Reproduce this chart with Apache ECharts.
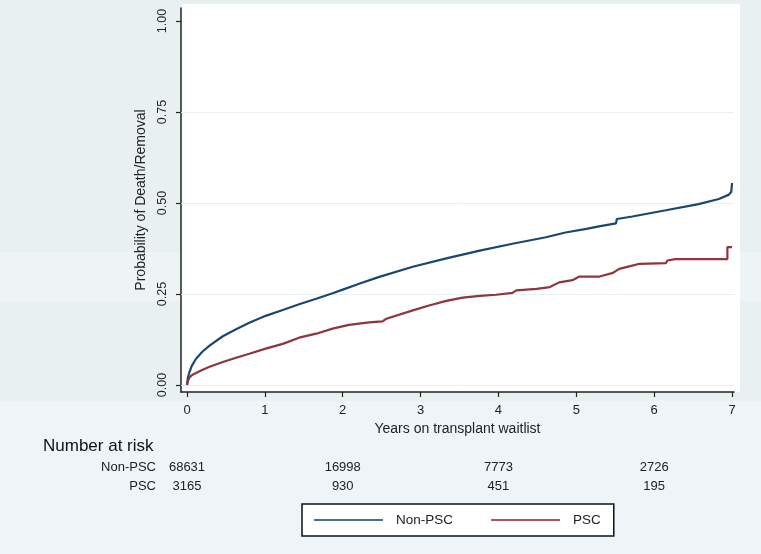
<!DOCTYPE html>
<html>
<head>
<meta charset="utf-8">
<script src="https://cdn.jsdelivr.net/npm/echarts@6/dist/echarts.min.js"></script>
<style>
  html, body { margin: 0; padding: 0; }
  #chart { width: 761px; height: 554px; }
</style>
</head>
<body>
<div id="chart"></div>
<script>
// cumulative probability of death/removal
const nonPscT = [0, 0.01, 0.03, 0.06, 0.116, 0.2, 0.29, 0.46, 0.63, 0.80, 1.01, 1.23, 1.44, 1.66, 1.87, 2.0, 2.21, 2.47, 2.90, 3.33, 3.76, 4.18, 4.61, 4.86, 5.13, 5.29, 5.51, 5.52, 5.72, 6.15, 6.57, 6.83, 6.96, 6.99, 7.0, 7.0];
const nonPscP = [0, 0.018, 0.035, 0.052, 0.072, 0.092, 0.108, 0.134, 0.153, 0.171, 0.19, 0.206, 0.222, 0.237, 0.252, 0.262, 0.278, 0.297, 0.325, 0.348, 0.369, 0.388, 0.406, 0.419, 0.429, 0.436, 0.444, 0.456, 0.463, 0.480, 0.497, 0.511, 0.523, 0.531, 0.535, 0.555];

const pscT = [0, 0.01, 0.03, 0.06, 0.116, 0.2, 0.29, 0.46, 0.63, 0.80, 1.01, 1.23, 1.44, 1.66, 1.87, 2.08, 2.34, 2.51, 2.56, 2.90, 3.12, 3.33, 3.54, 3.76, 3.97, 4.18, 4.23, 4.49, 4.66, 4.78, 4.95, 5.04, 5.30, 5.47, 5.55, 5.68, 5.81, 6.15, 6.17, 6.27, 6.94, 6.94, 7.0];
const pscP = [0, 0.01, 0.02, 0.027, 0.033, 0.042, 0.05, 0.063, 0.075, 0.086, 0.1, 0.113, 0.13, 0.141, 0.155, 0.165, 0.172, 0.175, 0.182, 0.205, 0.219, 0.231, 0.24, 0.245, 0.248, 0.253, 0.26, 0.264, 0.269, 0.282, 0.288, 0.298, 0.298, 0.308, 0.319, 0.326, 0.333, 0.335, 0.342, 0.346, 0.346, 0.379, 0.379];

const xTicks = [0, 1, 2, 3, 4, 5, 6, 7];
const yTicks = [0, 0.25, 0.5, 0.75, 1];

// number at risk table
const riskTimes = [0, 2, 4, 6];
const nonPscRisk = [68631, 16998, 7773, 2726];
const pscRisk = [3165, 930, 451, 195];

const FONT = '"Liberation Sans", Arial, sans-serif';
const NAVY = '#1a476f';
const MAROON = '#90353b';

function pairs(xs, ys) {
  return xs.map((x, i) => [x, ys[i]]);
}

const chart = echarts.init(document.getElementById('chart'), null, { renderer: 'canvas' });

let option = {
  animation: false,
  backgroundColor: '#e9f0f1',
  textStyle: { fontFamily: FONT },
  grid: { left: 181, right: 27, top: 8, bottom: 162, containLabel: false },
  legend: {
    left: 302,
    top: 504,
    padding: [9, 13, 9, 12],
    itemGap: 38,
    itemWidth: 69,
    itemHeight: 2,
    icon: 'rect',
    borderColor: '#111',
    borderWidth: 1.5,
    borderRadius: 0,
    backgroundColor: '#fff',
    textStyle: { fontSize: 13.5, color: '#222', fontFamily: FONT, padding: [0, 0, 0, 8] },
    data: [
      { name: 'Non-PSC', itemStyle: { color: '#4a6f95' } },
      { name: 'PSC', itemStyle: { color: '#b5545a' } }
    ]
  },
  xAxis: {
    type: 'value',
    min: -0.077,
    max: 7.025,
    name: 'Years on transplant waitlist',
    nameLocation: 'middle',
    nameGap: 30,
    nameTextStyle: { fontSize: 14, color: '#222', fontFamily: FONT },
    axisLine: { show: true, onZero: false, lineStyle: { color: '#222', width: 1.5 } },
    axisTick: { show: true, length: 5, customValues: xTicks, lineStyle: { color: '#222', width: 1.2 } },
    axisLabel: { customValues: xTicks, fontSize: 13, color: '#222', margin: 12, fontFamily: FONT },
    splitLine: { show: false }
  },
  yAxis: {
    type: 'value',
    min: -0.0192,
    max: 1.0357,
    name: 'Probability of Death/Removal',
    nameLocation: 'middle',
    nameGap: 28,
    nameTextStyle: { fontSize: 14, color: '#222', fontFamily: FONT },
    axisLine: { show: true, onZero: false, lineStyle: { color: '#222', width: 1.5 } },
    axisTick: { show: true, length: 5, customValues: yTicks, lineStyle: { color: '#222', width: 1.2 } },
    axisLabel: {
      customValues: yTicks,
      rotate: 90,
      fontSize: 12.5,
      color: '#222',
      margin: 12,
      fontFamily: FONT,
      formatter: v => v.toFixed(2)
    },
    splitLine: { show: false }
  },
  graphic: [
    { type: 'rect', z: -10, silent: true, shape: { x: 0, y: 252, width: 761, height: 50 }, style: { fill: '#eef4f6' } },
    { type: 'rect', z: -10, silent: true, shape: { x: 0, y: 401, width: 761, height: 153 }, style: { fill: '#eef4f7' } },
    { type: 'rect', z: -5, silent: true, shape: { x: 181, y: 4, width: 559, height: 388 }, style: { fill: '#ffffff' } }
  ],
  series: [
    {
      name: 'grid',
      type: 'line',
      data: [],
      z: 1,
      markLine: {
        silent: true,
        z: 1,
        symbol: 'none',
        label: { show: false },
        lineStyle: { color: '#e8eff1', width: 1, type: 'solid' },
        data: [{ yAxis: 0 }, { yAxis: 0.25 }, { yAxis: 0.5 }, { yAxis: 0.75 }]
      }
    },
    {
      name: 'Non-PSC',
      type: 'line',
      z: 3,
      showSymbol: false,
      data: pairs(nonPscT, nonPscP),
      lineStyle: { color: NAVY, width: 2.2 },
      itemStyle: { color: NAVY }
    },
    {
      name: 'PSC',
      type: 'line',
      z: 3,
      showSymbol: false,
      data: pairs(pscT, pscP),
      lineStyle: { color: MAROON, width: 2.2 },
      itemStyle: { color: MAROON }
    }
  ]
};

chart.setOption(option);

// number-at-risk table placed under the matching x positions
const tableText = [];
const rowY = [467, 486];
tableText.push({
  type: 'text', left: 43, top: 438,
  style: { text: 'Number at risk', fontSize: 17, fill: '#111', fontFamily: FONT }
});
['Non-PSC', 'PSC'].forEach((lab, r) => {
  tableText.push({
    type: 'text', x: 156, y: rowY[r],
    style: { text: lab, fontSize: 13, fill: '#222', fontFamily: FONT, align: 'right', verticalAlign: 'middle' }
  });
});
[nonPscRisk, pscRisk].forEach((row, r) => {
  row.forEach((n, i) => {
    const px = chart.convertToPixel({ xAxisIndex: 0 }, riskTimes[i]);
    tableText.push({
      type: 'text', x: px, y: rowY[r],
      style: { text: String(n), fontSize: 13, fill: '#222', fontFamily: FONT, align: 'center', verticalAlign: 'middle' }
    });
  });
});

chart.setOption({ graphic: option.graphic.concat(tableText) });
</script>
</body>
</html>
